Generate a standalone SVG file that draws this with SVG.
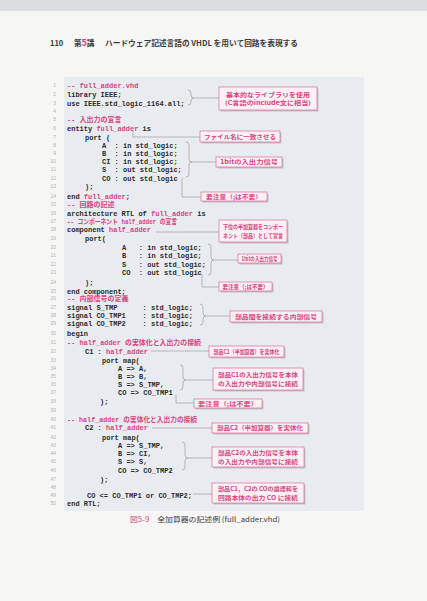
<svg xmlns="http://www.w3.org/2000/svg" width="427" height="601" viewBox="0 0 427 601">
<defs>
<style>
.code{font-family:"Liberation Mono","Noto Sans CJK JP",monospace;font-size:7px;font-weight:bold;fill:#2b2b2e;white-space:pre}
.pk{fill:#d8437f}
.ln{font-family:"Liberation Sans",sans-serif;font-size:5px;fill:#b4b4b8;text-anchor:end}
.box rect.s{fill:#bfc1c7}
.box rect.b{fill:#fbf0f4;stroke:#e06c9a;stroke-width:0.7}
.box text{font-family:"Noto Sans CJK JP","Liberation Sans",sans-serif;font-size:5.6px;font-weight:bold;fill:#d8437f;text-anchor:middle}
.con path{fill:none;stroke:#8e939a;stroke-width:0.6}
.hdr{font-family:"Noto Sans CJK JP","Liberation Sans",sans-serif;font-weight:bold;fill:#3a3a3c}
.cap{font-family:"Noto Sans CJK JP","Liberation Sans",sans-serif;font-weight:normal;fill:#3a3a3c;font-size:7px}
</style>
</defs>
<rect x="0" y="0" width="427" height="601" fill="#f6f6f5"/>
<rect x="0" y="0" width="427" height="11" fill="#dcdde0"/>
<g id="header">
<text class="hdr" x="50" y="46" font-size="7.5">110</text>
<text class="hdr" x="74" y="46" font-size="7.5">第<tspan fill="#d8437f" font-size="9">5</tspan>講</text>
<text class="hdr" x="105" y="46" font-size="7.6" textLength="193" lengthAdjust="spacingAndGlyphs">ハードウェア記述言語の VHDL を用いて回路を表現する</text>
</g>
<rect id="panel" x="64" y="77" width="300" height="434" fill="#e8ecf0"/>
<g id="linenos">
<text class="ln" x="56" y="87">1</text><text class="ln" x="56" y="96">2</text><text class="ln" x="56" y="105">3</text><text class="ln" x="56" y="113">4</text><text class="ln" x="56" y="121">5</text>
<text class="ln" x="56" y="130">6</text><text class="ln" x="56" y="139">7</text><text class="ln" x="56" y="147">8</text><text class="ln" x="56" y="155">9</text><text class="ln" x="56" y="163">10</text>
<text class="ln" x="56" y="171">11</text><text class="ln" x="56" y="180">12</text><text class="ln" x="56" y="188">13</text><text class="ln" x="56" y="198">14</text><text class="ln" x="56" y="206">15</text>
<text class="ln" x="56" y="215">16</text><text class="ln" x="56" y="223">17</text><text class="ln" x="56" y="231">18</text><text class="ln" x="56" y="240">19</text><text class="ln" x="56" y="249">20</text>
<text class="ln" x="56" y="257">21</text><text class="ln" x="56" y="266">22</text><text class="ln" x="56" y="274">23</text><text class="ln" x="56" y="284">24</text><text class="ln" x="56" y="293">25</text>
<text class="ln" x="56" y="300">26</text><text class="ln" x="56" y="309">27</text><text class="ln" x="56" y="317">28</text><text class="ln" x="56" y="325">29</text><text class="ln" x="56" y="335">30</text>
<text class="ln" x="56" y="344">31</text><text class="ln" x="56" y="353">32</text><text class="ln" x="56" y="362">33</text><text class="ln" x="56" y="370">34</text><text class="ln" x="56" y="378">35</text>
<text class="ln" x="56" y="386">36</text><text class="ln" x="56" y="394">37</text><text class="ln" x="56" y="403">38</text><text class="ln" x="56" y="412">39</text><text class="ln" x="56" y="421">40</text>
<text class="ln" x="56" y="429">41</text><text class="ln" x="56" y="439">42</text><text class="ln" x="56" y="447">43</text><text class="ln" x="56" y="455">44</text><text class="ln" x="56" y="463">45</text>
<text class="ln" x="56" y="472">46</text><text class="ln" x="56" y="481">47</text><text class="ln" x="56" y="489">48</text><text class="ln" x="56" y="497">49</text><text class="ln" x="56" y="505">50</text>
</g>
<g id="code">
<text class="code pk" x="67" y="87.5">-- full_adder.vhd</text>
<text class="code" x="67" y="96.5">library IEEE;</text>
<text class="code" x="67" y="105.5">use IEEE.std_logic_1164.all;</text>
<text class="code pk" x="67" y="121.5">-- 入出力の宣言</text>
<text class="code" x="67" y="130.5">entity <tspan class="pk">full_adder</tspan> is</text>
<text class="code" x="85" y="139.5">port (</text>
<text class="code" x="102" y="147.5">A  : in std_logic;</text>
<text class="code" x="102" y="155.5">B  : in std_logic;</text>
<text class="code" x="102" y="163.5">CI : in std_logic;</text>
<text class="code" x="102" y="171.5">S  : out std_logic;</text>
<text class="code" x="102" y="180.5">CO : out std_logic</text>
<text class="code" x="85" y="188.5">);</text>
<text class="code" x="67" y="198.5">end <tspan class="pk">full_adder</tspan>;</text>
<text class="code pk" x="67" y="206.5">-- 回路の記述</text>
<text class="code" x="67" y="215.5">architecture RTL of <tspan class="pk">full_adder</tspan> is</text>
<text class="code pk" x="67" y="223.5" textLength="110" lengthAdjust="spacingAndGlyphs">-- コンポーネント half_adder の宣言</text>
<text class="code" x="67" y="231.5">component <tspan class="pk">half_adder</tspan></text>
<text class="code" x="85" y="240.5">port(</text>
<text class="code" x="122" y="249.5">A   : in std_logic;</text>
<text class="code" x="122" y="257.5">B   : in std_logic;</text>
<text class="code" x="122" y="266.5">S   : out std_logic;</text>
<text class="code" x="122" y="274.5">CO  : out std_logic</text>
<text class="code" x="85" y="284.5">);</text>
<text class="code" x="67" y="293.5">end component;</text>
<text class="code pk" x="67" y="300.5">-- 内部信号の定義</text>
<text class="code" x="67" y="309.5">signal S_TMP      : std_logic;</text>
<text class="code" x="67" y="317.5">signal CO_TMP1    : std_logic;</text>
<text class="code" x="67" y="325.5">signal CO_TMP2    : std_logic;</text>
<text class="code" x="67" y="335.5">begin</text>
<text class="code pk" x="67" y="344.5" textLength="134" lengthAdjust="spacingAndGlyphs">-- half_adder の実体化と入出力の接続</text>
<text class="code" x="85" y="353.5">C1 : <tspan class="pk">half_adder</tspan></text>
<text class="code" x="102" y="362.5">port map(</text>
<text class="code" x="118" y="370.5">A =&gt; A,</text>
<text class="code" x="118" y="378.5">B =&gt; B,</text>
<text class="code" x="118" y="386.5">S =&gt; S_TMP,</text>
<text class="code" x="118" y="394.5">CO =&gt; CO_TMP1</text>
<text class="code" x="100" y="403.5">);</text>
<text class="code pk" x="67" y="421.5" textLength="130" lengthAdjust="spacingAndGlyphs">-- half_adder の実体化と入出力の接続</text>
<text class="code" x="85" y="429.5">C2 : <tspan class="pk">half_adder</tspan></text>
<text class="code" x="102" y="439.5">port map(</text>
<text class="code" x="118" y="447.5">A =&gt; S_TMP,</text>
<text class="code" x="118" y="455.5">B =&gt; CI,</text>
<text class="code" x="118" y="463.5">S =&gt; S,</text>
<text class="code" x="118" y="472.5">CO =&gt; CO_TMP2</text>
<text class="code" x="100" y="481.5">);</text>
<text class="code" x="87" y="497.5">CO &lt;= CO_TMP1 or CO_TMP2;</text>
<text class="code" x="67" y="505.5">end RTL;</text>
</g>
<g id="connectors" class="con">
<path d="M188,90 q3,0 3,3 v2 q0,3 3,3 q-3,0 -3,3 v1 q0,3 -3,3 M194,98 H219"/>
<path d="M133,130 V137 H200"/>
<path d="M186,142 q3,0 3,3 v14 q0,3 3,3 q-3,0 -3,3 v9 q0,3 -3,3 M192,162 H216"/>
<path d="M182,178 V197 H201"/>
<path d="M156,232 H219"/>
<path d="M208,244 q3,0 3,3 v10 q0,3 3,3 q-3,0 -3,3 v9 q0,3 -3,3 M214,260 H238"/>
<path d="M202,274 V287 H219"/>
<path d="M200,304 q3,0 3,3 v6 q0,3 3,3 q-3,0 -3,3 v3 q0,3 -3,3 M206,316 H230"/>
<path d="M151,351 H209"/>
<path d="M180,365 q3,0 3,3 v9 q0,3 3,3 q-3,0 -3,3 v4 q0,3 -3,3 M186,380 H213"/>
<path d="M176,394 V403 H194"/>
<path d="M152,428 H212"/>
<path d="M182,442 q3,0 3,3 v10 q0,3 3,3 q-3,0 -3,3 v6 q0,3 -3,3 M188,458 H212"/>
<path d="M193,494 H212"/>
</g>
<g id="n1" class="box"><rect class="s" x="220.5" y="88.5" width="98" height="23"/><rect class="b" x="219" y="87" width="98" height="23"/><text x="268" y="96.5" textLength="84" lengthAdjust="spacingAndGlyphs">基本的なライブラリを使用</text><text x="268" y="105" textLength="86" lengthAdjust="spacingAndGlyphs">(C言語のinclude文に相当)</text></g>
<g id="n2" class="box"><rect class="s" x="201.5" y="132.5" width="80" height="11"/><rect class="b" x="200" y="131" width="80" height="11"/><text x="240" y="138.8" textLength="72" lengthAdjust="spacingAndGlyphs">ファイル名に一致させる</text></g>
<g id="n3" class="box"><rect class="s" x="217.5" y="158.5" width="66" height="10"/><rect class="b" x="216" y="157" width="66" height="10"/><text x="249" y="164.3" textLength="58" lengthAdjust="spacingAndGlyphs">1bitの入出力信号</text></g>
<g id="n4" class="box"><rect class="s" x="202.5" y="193.5" width="66" height="9"/><rect class="b" x="201" y="192" width="66" height="9"/><text x="234" y="198.8" textLength="56" lengthAdjust="spacingAndGlyphs">要注意（;は不要）</text></g>
<g id="n5" class="box"><rect class="s" x="220.5" y="221.5" width="68" height="22"/><rect class="b" x="219" y="220" width="68" height="22"/><text x="253" y="229" textLength="60" lengthAdjust="spacingAndGlyphs">下位の半加算器をコンポー</text><text x="253" y="237.5" textLength="60" lengthAdjust="spacingAndGlyphs">ネント（部品）として宣言</text></g>
<g id="n6" class="box"><rect class="s" x="239.5" y="255.5" width="43" height="9"/><rect class="b" x="238" y="254" width="43" height="9"/><text x="259.5" y="260.8" textLength="36" lengthAdjust="spacingAndGlyphs">1bitの入出力信号</text></g>
<g id="n7" class="box"><rect class="s" x="220.5" y="283.5" width="53" height="9"/><rect class="b" x="219" y="282" width="53" height="9"/><text x="245.5" y="288.8" textLength="46" lengthAdjust="spacingAndGlyphs">要注意（;は不要）</text></g>
<g id="n8" class="box"><rect class="s" x="231.5" y="312.5" width="92" height="11"/><rect class="b" x="230" y="311" width="92" height="11"/><text x="276" y="318.8" textLength="82" lengthAdjust="spacingAndGlyphs">部品間を接続する内部信号</text></g>
<g id="n9" class="box"><rect class="s" x="210.5" y="347.5" width="75" height="11"/><rect class="b" x="209" y="346" width="75" height="11"/><text x="246.5" y="353.8" textLength="66" lengthAdjust="spacingAndGlyphs">部品C1（半加算器）を実体化</text></g>
<g id="n10" class="box"><rect class="s" x="214.5" y="369.5" width="90" height="22"/><rect class="b" x="213" y="368" width="90" height="22"/><text x="258" y="377" textLength="80" lengthAdjust="spacingAndGlyphs">部品C1の入出力信号を本体</text><text x="258" y="386" textLength="80" lengthAdjust="spacingAndGlyphs">の入出力や内部信号に接続</text></g>
<g id="n11" class="box"><rect class="s" x="195.5" y="400.5" width="68" height="9"/><rect class="b" x="194" y="399" width="68" height="9"/><text x="228" y="405.8" textLength="60" lengthAdjust="spacingAndGlyphs">要注意（;は不要）</text></g>
<g id="n12" class="box"><rect class="s" x="213.5" y="424.5" width="96" height="10"/><rect class="b" x="212" y="423" width="96" height="10"/><text x="260" y="430.3" textLength="86" lengthAdjust="spacingAndGlyphs">部品C2（半加算器）を実体化</text></g>
<g id="n13" class="box"><rect class="s" x="213.5" y="448.5" width="92" height="20"/><rect class="b" x="212" y="447" width="92" height="20"/><text x="258" y="455" textLength="80" lengthAdjust="spacingAndGlyphs">部品C2の入出力信号を本体</text><text x="258" y="463.5" textLength="80" lengthAdjust="spacingAndGlyphs">の入出力や内部信号に接続</text></g>
<g id="n14" class="box"><rect class="s" x="213.5" y="484.5" width="92" height="20"/><rect class="b" x="212" y="483" width="92" height="20"/><text x="258" y="491" textLength="80" lengthAdjust="spacingAndGlyphs">部品C1，C2の COの論理和を</text><text x="258" y="499.5" textLength="80" lengthAdjust="spacingAndGlyphs">回路本体の出力 CO に接続</text></g>
<g id="caption">
<text class="cap" x="130" y="522" textLength="150" lengthAdjust="spacingAndGlyphs"><tspan fill="#d8437f">図5-9</tspan>　全加算器の記述例 (full_adder.vhd)</text>
</g>
</svg>
